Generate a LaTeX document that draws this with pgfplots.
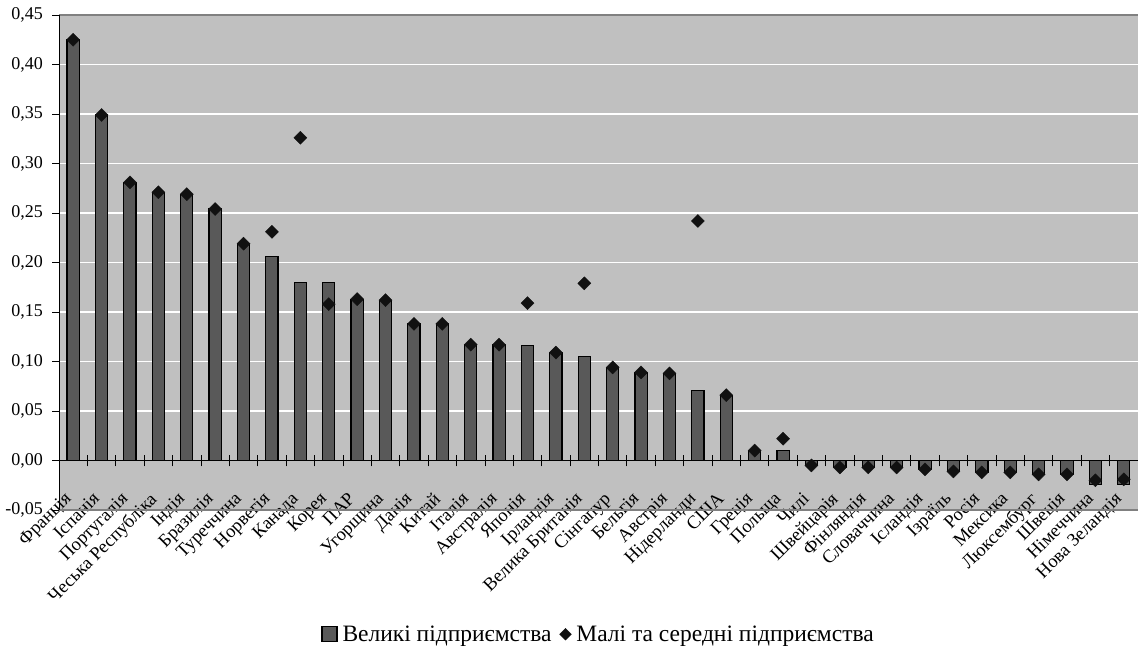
\documentclass[border=0pt]{standalone}
\usepackage{pgfplots}
\pgfplotsset{compat=1.18}
\usepackage{pgfplotstable}
\usepackage{fontspec}
\setmainfont{Liberation Serif}
\definecolor{bggray}{HTML}{C0C0C0}
\definecolor{barcol}{HTML}{595959}
\definecolor{framecol}{HTML}{808080}
\definecolor{markcol}{HTML}{111111}

\pgfplotstableread{
x big small
0 0.425 0.425
1 0.349 0.349
2 0.281 0.281
3 0.271 0.271
4 0.269 0.269
5 0.254 0.254
6 0.219 0.219
7 0.206 0.231
8 0.180 0.326
9 0.180 0.158
10 0.163 0.163
11 0.162 0.162
12 0.138 0.138
13 0.138 0.138
14 0.117 0.117
15 0.117 0.117
16 0.116 0.159
17 0.109 0.109
18 0.105 0.179
19 0.094 0.094
20 0.089 0.089
21 0.088 0.088
22 0.071 0.242
23 0.066 0.066
24 0.010 0.010
25 0.010 0.022
26 -0.005 -0.005
27 -0.007 -0.007
28 -0.007 -0.007
29 -0.007 -0.007
30 -0.009 -0.009
31 -0.011 -0.011
32 -0.012 -0.012
33 -0.012 -0.012
34 -0.014 -0.014
35 -0.014 -0.014
36 -0.024 -0.020
37 -0.024 -0.019
}\datatable

\begin{document}
\begin{tikzpicture}
\begin{axis}[
  at={(59bp,137bp)}, anchor=south west,
  scale only axis,
  width=1079bp, height=495bp,
  xmin=-0.5, xmax=37.5,
  ymin=-0.05, ymax=0.45,
  axis x line=middle,
  axis y line=left,
  axis line style={-, black, line width=0.9pt},
  axis background/.style={fill=bggray},
  ytick={-0.05,0,0.05,0.1,0.15,0.2,0.25,0.3,0.35,0.4,0.45},
  ymajorgrids,
  grid style={white, line width=1.2pt},
  xtick={0,...,37},
  xticklabels={Франція,Іспанія,Португалія,Чеська Республіка,Індія,Бразилія,Туреччина,Норвегія,Канада,Корея,ПАР,Угорщина,Данія,Китай,Італія,Австралія,Японія,Ірландія,Велика Британія,Сінгапур,Бельгія,Австрія,Нідерланди,США,Греція,Польща,Чилі,Швейцарія,Фінляндія,Словаччина,Ісландія,Ізраїль,Росія,Мексика,Люксембург,Швеція,Німеччина,Нова Зеландія},
  minor xtick={0.5,1.5,...,37.5},
  major x tick style={draw=none},
  minor x tick style={black, line width=0.8pt},
  minor tick length=12bp,
  major tick length=7bp,
  xtick align=center,
  ytick align=outside,
  ytick pos=left,
  y tick style={black, line width=0.8pt},
  yticklabel style={font=\rmfamily\fontsize{18bp}{21bp}\selectfont},
  xticklabel style={font=\rmfamily\fontsize{18.5bp}{22bp}\selectfont, inner sep=0pt, xshift=-10bp, yshift=-27bp, rotate=45, anchor=north east},
  yticklabel style={inner sep=0pt, xshift=-9bp, /pgf/number format/.cd, fixed, fixed zerofill, precision=2, use comma, assume math mode=true},
  legend style={at={(0.5,-0.251)}, anchor=center, draw=none, fill=none, legend columns=-1,
    font=\rmfamily\fontsize{23.5bp}{27bp}\selectfont,
    /tikz/every odd column/.append style={column sep=3bp},
    /tikz/every even column/.append style={column sep=6bp}},
  legend cell align=left,
  clip=false,
]
\addplot[ybar, bar width=0.43, fill=barcol, draw=black, line width=1.2pt,
  legend image code/.code={\draw[fill=barcol, draw=black, line width=1.3pt] (0bp,-7.5bp) rectangle (15bp,7.5bp);}]
  table[x=x, y=big] {\datatable};
\addlegendentry{Великі підприємства}
\addplot[only marks, mark=square*, mark size=4.6bp, mark options={rotate=45, fill=markcol, draw=markcol},
  legend image code/.code={\draw[markcol, mark=square*, mark size=4.2bp, mark options={rotate=45, fill=markcol, draw=markcol}] plot coordinates {(6bp,0bp)};}]
  table[x=x, y=small] {\datatable};
\addlegendentry{Малі та середні підприємства}
\draw[framecol, line width=1.5pt] (rel axis cs:0,1) -- (rel axis cs:1,1);
\draw[framecol, line width=1.5pt] (rel axis cs:0,0) -- (rel axis cs:1,0);
\draw[black, line width=0.9pt] (rel axis cs:0,0) -- (rel axis cs:0,1);
\end{axis}
\pgfresetboundingbox
\useasboundingbox (0,0) rectangle (1138bp,647bp);
\end{tikzpicture}
\end{document}
